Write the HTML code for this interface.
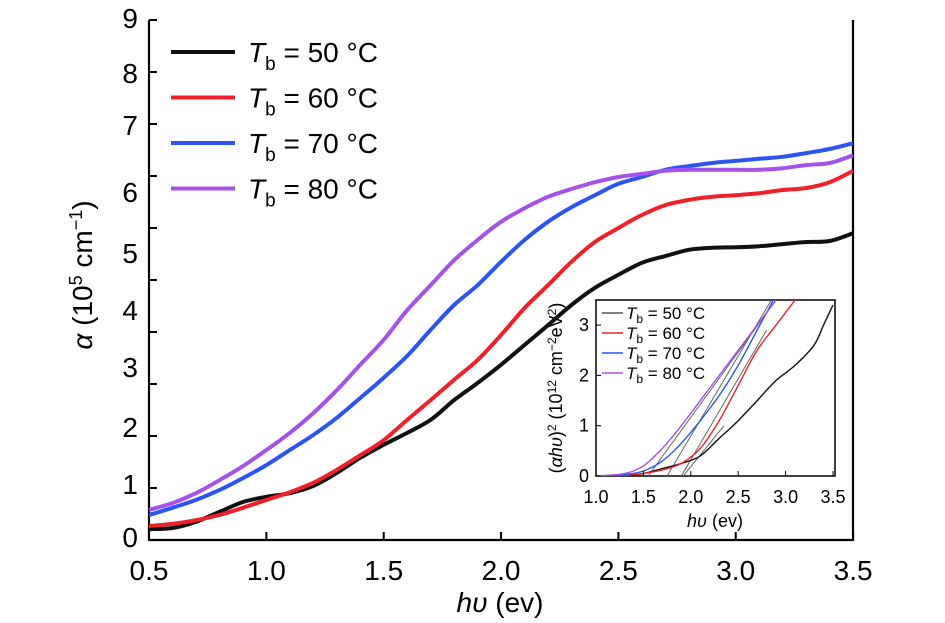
<!DOCTYPE html>
<html><head><meta charset="utf-8"><style>
body{margin:0;background:#fff;}
svg{display:block;font-family:"Liberation Sans",sans-serif;}
</style></head><body>
<svg id="chart" width="945" height="623" viewBox="0 0 945 623">
<g id="main"></g>
<g id="inset"></g>
</svg>
<script>
const xs=[0.5,0.6,0.7,0.8,0.9,1.0,1.1,1.2,1.3,1.4,1.5,1.6,1.7,1.8,1.9,2.0,2.1,2.2,2.3,2.4,2.5,2.6,2.7,2.8,2.9,3.0,3.1,3.2,3.3,3.4,3.5];
const s50=[0.21,0.23,0.35,0.54,0.73,0.83,0.9,1.04,1.29,1.58,1.83,2.06,2.31,2.69,3.02,3.37,3.75,4.13,4.52,4.85,5.10,5.33,5.46,5.58,5.62,5.63,5.65,5.69,5.73,5.75,5.9];
const s60=[0.27,0.31,0.38,0.48,0.62,0.77,0.92,1.1,1.35,1.63,1.92,2.31,2.69,3.08,3.46,3.94,4.46,4.9,5.35,5.73,6.0,6.25,6.44,6.54,6.6,6.63,6.67,6.73,6.77,6.88,7.1];
const s70=[0.48,0.62,0.77,0.96,1.19,1.44,1.73,2.02,2.35,2.73,3.12,3.54,4.04,4.52,4.9,5.35,5.77,6.12,6.4,6.63,6.85,6.98,7.12,7.19,7.25,7.29,7.33,7.37,7.44,7.52,7.63];
const s80=[0.58,0.71,0.9,1.15,1.42,1.73,2.06,2.44,2.88,3.37,3.85,4.42,4.9,5.38,5.77,6.12,6.38,6.6,6.75,6.88,6.98,7.04,7.1,7.12,7.12,7.12,7.12,7.15,7.21,7.25,7.4];
const xTicks=["0.5","1.0","1.5","2.0","2.5","3.0","3.5"];
const yTickLabels=["0","1","2","3","4","5","6","7","8","9"];
const legendLabels=["50","60","70","80"];
const ixs=[1.0,1.3,1.5,1.7,1.9,2.1,2.3,2.5,2.7,2.9,3.1,3.3,3.4,3.5];
const i80=[0,0.05,0.2,0.55,1.0,1.5,2.0,2.5,3.0,3.5,null,null,null,null];
const i70=[0,0.03,0.1,0.3,0.65,1.1,1.6,2.2,2.9,3.6,null,null,null,null];
const i60=[0,0.01,0.05,0.12,0.25,0.55,1.1,1.8,2.5,3.0,3.5,null,null,null];
const i50=[0,0.01,0.05,0.15,0.25,0.4,0.75,1.1,1.5,1.9,2.2,2.6,3.0,3.4];
const iTicksX=["1.0","1.5","2.0","2.5","3.0","3.5"];
const iTicksY=["0","1","2","3"];
const tangents=[[1.55,0,2.9,3.5],[1.75,0,2.85,3.5],[1.9,0,2.8,2.9],[1.92,0,2.35,1.0]];
const colors=["#111","#f0202a","#2a55f0","#a452ea"];
const NS="http://www.w3.org/2000/svg";
function mk(p,tag,at,txt){const e=document.createElementNS(NS,tag);for(const k in at)e.setAttribute(k,at[k]);if(txt!==undefined)e.textContent=txt;p.appendChild(e);return e;}
function smooth(pts){let d='M'+pts[0][0].toFixed(1)+','+pts[0][1].toFixed(1);
for(let i=0;i<pts.length-1;i++){const p0=pts[Math.max(0,i-1)],p1=pts[i],p2=pts[i+1],p3=pts[Math.min(pts.length-1,i+2)];
const c1x=p1[0]+(p2[0]-p0[0])/6,c1y=p1[1]+(p2[1]-p0[1])/6,c2x=p2[0]-(p3[0]-p1[0])/6,c2y=p2[1]-(p3[1]-p1[1])/6;
d+=`C${c1x.toFixed(1)},${c1y.toFixed(1)} ${c2x.toFixed(1)},${c2y.toFixed(1)} ${p2[0].toFixed(1)},${p2[1].toFixed(1)}`;}return d;}
const X=v=>149+(v-0.5)*234.7, Y=v=>540-v*52;
const m=document.getElementById('main');
let fr=mk(m,'path',{d:`M149,20V540H853V20`,fill:'none',stroke:'#000','stroke-width':2.2});

for(let i=0;i<=10;i++){mk(m,'line',{x1:149,x2:157,y1:540-i*52,y2:540-i*52,stroke:'#000','stroke-width':2});}
const yLabY=[537,484,427,367,310,253,192,125,73,18];
yTickLabels.forEach((t,i)=>{const e=mk(m,'text',{x:138,y:yLabY[i]+10,'text-anchor':'end','font-size':28},t);
});
xTicks.forEach(t=>{const v=parseFloat(t);mk(m,'line',{x1:X(v),x2:X(v),y1:540,y2:532,stroke:'#000','stroke-width':2});
const e=mk(m,'text',{x:X(v),y:580,'text-anchor':'middle','font-size':28},t);
});
let xl=mk(m,'text',{x:500,y:612,'text-anchor':'middle','font-size':28});
xl.innerHTML='<tspan font-style="italic">hυ</tspan> (ev)';

let yl=mk(m,'text',{transform:'translate(92,275) rotate(-90)','text-anchor':'middle','font-size':28});
yl.innerHTML='<tspan font-style="italic">α</tspan> (10<tspan dy="-10" font-size="18">5</tspan><tspan dy="10"> cm</tspan><tspan dy="-10" font-size="18">−1</tspan><tspan dy="10">)</tspan>';

[s50,s60,s70,s80].forEach((s,k)=>{const d=smooth(s.map((v,i)=>[X(xs[i]),Y(v)]));
const e=mk(m,'path',{d,fill:'none',stroke:colors[k],'stroke-width':4,'stroke-linejoin':'round'});
});
legendLabels.forEach((t,k)=>{const y=52+k*45.5;
const g=mk(m,'g',{});
mk(g,'line',{x1:171,x2:235,y1:y,y2:y,stroke:colors[k],'stroke-width':4});
const e=mk(g,'text',{x:248,y:y+10,'font-size':28});
e.innerHTML='<tspan font-style="italic">T</tspan><tspan dy="8" font-size="19">b</tspan><tspan dy="-8"> = '+t+' °C</tspan>';});
// inset
const n=document.getElementById('inset');
const IX=v=>596+(v-1)*94.8, IY=v=>476-v*50.3;
let ib=mk(n,'rect',{x:596,y:300,width:239,height:176,fill:'#fff',stroke:'#000','stroke-width':1.5});

const clip=mk(n,'clipPath',{id:'ic'});mk(clip,'rect',{x:596,y:300,width:239,height:176});
const ig=mk(n,'g',{'clip-path':'url(#ic)'});
tangents.forEach(t=>{mk(ig,'line',{x1:IX(t[0]),y1:IY(t[1]),x2:IX(t[2]),y2:IY(t[3]),stroke:'#666','stroke-width':1});});
[i50,i60,i70,i80].forEach((s,k)=>{const pts=[];s.forEach((v,i)=>{if(v!==null)pts.push([IX(ixs[i]),IY(v)]);});
const e=mk(ig,'path',{d:smooth(pts),fill:'none',stroke:colors[k],'stroke-width':1.4});
});
iTicksX.forEach(t=>{const v=parseFloat(t);mk(n,'line',{x1:IX(v),x2:IX(v),y1:476,y2:471,stroke:'#000'});
const e=mk(n,'text',{x:IX(v),y:503,'text-anchor':'middle','font-size':18},t);
});
iTicksY.forEach(t=>{const v=parseFloat(t);mk(n,'line',{x1:596,x2:601,y1:IY(v),y2:IY(v),stroke:'#000'});
const e=mk(n,'text',{x:589,y:IY(v)+6,'text-anchor':'end','font-size':18},t);
});
let ixl=mk(n,'text',{x:715,y:527,'text-anchor':'middle','font-size':18});
ixl.innerHTML='<tspan font-style="italic">hυ</tspan> (ev)';

let iyl=mk(n,'text',{transform:'translate(562,388) rotate(-90)','text-anchor':'middle','font-size':18});
iyl.innerHTML='(<tspan font-style="italic">αhυ</tspan>)<tspan dy="-6" font-size="12">2</tspan><tspan dy="6"> (10</tspan><tspan dy="-6" font-size="12">12</tspan><tspan dy="6"> cm</tspan><tspan dy="-6" font-size="12">−2</tspan><tspan dy="6">eV</tspan><tspan dy="-6" font-size="12">2</tspan><tspan dy="6">)</tspan>';

legendLabels.forEach((t,k)=>{const y=313+k*20;
const g=mk(n,'g',{});
mk(g,'line',{x1:602,x2:623,y1:y,y2:y,stroke:k==0?'#555':colors[k],'stroke-width':1.5});
const e=mk(g,'text',{x:626,y:y+6,'font-size':17});
e.innerHTML='<tspan font-style="italic">T</tspan><tspan dy="4" font-size="12">b</tspan><tspan dy="-4"> = '+t+' °C</tspan>';});
</script>
</body></html>
